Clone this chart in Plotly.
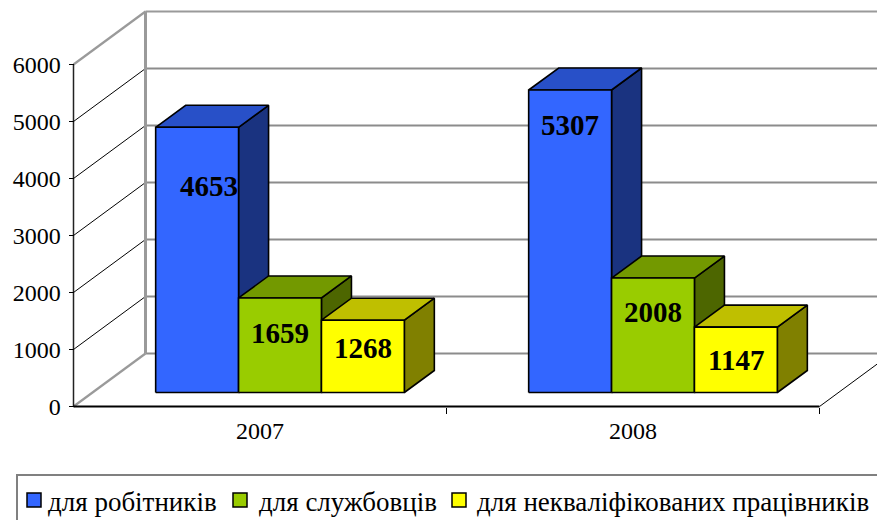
import plotly.graph_objects as go

# ---------------- data ----------------
categories = ["2007", "2008"]
series_names = ["для робітників", "для службовців", "для некваліфікованих працівників"]
workers = [4653, 5307]
employees = [1659, 2008]
unskilled = [1268, 1147]
y_ticks = [0, 1000, 2000, 3000, 4000, 5000, 6000]

# ---------------- styles ----------------
front_colors = ["#3366FF", "#99CC00", "#FFFF00"]
top_colors = ["#2850C8", "#739900", "#BFBF00"]
side_colors = ["#1A3380", "#4D6600", "#808000"]
FONT = "Liberation Serif, Times New Roman, serif"
# label offsets (px below bar top, px right of bar centre)
label_dy = [[59, 35, 28], [35, 34, 33]]
label_dx = [[12, 0, 0], [0, 0, 0]]

W, H = 877, 520
PXX = 373.0    # px per category unit
PXV = 0.057    # px per value unit
X0 = 280.0     # px of category 0 (bar front plane)
Y0 = 392.5     # px of value 0 (bar front plane)
BW = 1 / 4.5   # bar width (gap width 150%)


def depth(t):
    # pixel offset of depth plane t (0 = front axis, 1 = back wall) from bar front plane
    return -20 + 72 * t, 14 - 53 * t


def P(xc, v, t):
    dx, dy = depth(t)
    return xc + dx / PXX, v - dy / PXV


series = [workers, employees, unskilled]
cat_pos = list(range(len(categories)))
xmin, xmax = -0.5, len(categories) - 0.5
vmax = y_ticks[-1]

fig = go.Figure()


def line(pts, color, width, xref="x", yref="y"):
    fig.add_trace(go.Scatter(
        x=[p[0] for p in pts], y=[p[1] for p in pts], mode="lines",
        line=dict(color=color, width=width), hoverinfo="skip", showlegend=False,
        xaxis=xref, yaxis=yref))


def poly(pts, fill):
    xs = [p[0] for p in pts] + [pts[0][0]]
    ys = [p[1] for p in pts] + [pts[0][1]]
    fig.add_trace(go.Scatter(
        x=xs, y=ys, mode="lines", fill="toself", fillcolor=fill,
        line=dict(color="black", width=1.6), hoverinfo="skip", showlegend=False))


# ---------- walls ----------
for v in y_ticks:
    top_or_bottom = v in (y_ticks[0], y_ticks[-1])
    line([P(xmin, v, 1), P(xmax + 0.3, v, 1)], "#8C8C8C" if v != vmax else "#9A9A9A", 2)
    line([P(xmin, v, 0), P(xmin, v, 1)], "#9A9A9A" if top_or_bottom else "black",
         2.2 if top_or_bottom else 1)
line([P(xmin, 0, 1), P(xmin, vmax, 1)], "#9A9A9A", 3)
line([P(xmax, 0, 0), P(xmax, 0, 1)], "black", 1)
line([(xmin, 0), (xmin, vmax)], "#222222", 1.5, "x2", "y2")
line([(xmin, 0), (xmax, 0)], "black", 1.8, "x2", "y2")

# ---------- bars ----------
ddx = 30 / PXX
ddv = 22 / PXV
for i, c in enumerate(cat_pos):
    for j, vals in enumerate(series):
        v = vals[i]
        xc = c + (j - 1) * BW
        x0, x1 = xc - BW / 2, xc + BW / 2
        poly([(x1, 0), (x1, v), (x1 + ddx, v + ddv), (x1 + ddx, ddv)], side_colors[j])
        poly([(x0, v), (x1, v), (x1 + ddx, v + ddv), (x0 + ddx, v + ddv)], top_colors[j])
        poly([(x0, 0), (x1, 0), (x1, v), (x0, v)], front_colors[j])
        fig.add_annotation(
            x=xc + label_dx[i][j] / PXX, y=v - label_dy[i][j] / PXV, xref="x", yref="y",
            text=f"<b>{v}</b>", showarrow=False,
            font=dict(family=FONT, size=29, color="black"),
            xanchor="center", yanchor="middle")

# ---------- legend (manual) ----------
fig.add_shape(type="rect", xref="paper", yref="paper",
              x0=17 / W, x1=1.05, y0=-0.1, y1=1 - 475 / H,
              line=dict(color="#808080", width=2), fillcolor="white", layer="below")
leg_sq_x = [27, 233, 452]
leg_tx_x = [46, 257, 475]
for k, name in enumerate(series_names):
    fig.add_shape(type="rect", xref="paper", yref="paper",
                  x0=leg_sq_x[k] / W, x1=(leg_sq_x[k] + 14) / W,
                  y0=1 - 507 / H, y1=1 - 493 / H,
                  line=dict(color="black", width=1.5), fillcolor=front_colors[k])
    fig.add_annotation(x=leg_tx_x[k] / W, y=1 - 502 / H, xref="paper", yref="paper",
                       text=name, showarrow=False, xanchor="left", yanchor="middle",
                       font=dict(family=FONT, size=27, color="black"))

# ---------- axes ----------
fx0, fy0 = X0 + depth(0)[0], Y0 + depth(0)[1]   # front plane origin px
fig.update_layout(
    width=W, height=H,
    margin=dict(l=0, r=0, t=0, b=0),
    paper_bgcolor="white", plot_bgcolor="rgba(0,0,0,0)",
    showlegend=False,
    xaxis=dict(range=[(0 - X0) / PXX, (W - X0) / PXX], visible=False, fixedrange=True),
    yaxis=dict(range=[(Y0 - H) / PXV, Y0 / PXV], visible=False, fixedrange=True),
    xaxis2=dict(overlaying="x", anchor="free", position=1 - fy0 / H, side="bottom",
                range=[(0 - fx0) / PXX, (W - fx0) / PXX],
                tickmode="array", tickvals=cat_pos, ticktext=categories,
                ticks="", showgrid=False, zeroline=False, showline=False,
                ticklabelstandoff=7,
                tickfont=dict(family=FONT, size=24, color="black"),
                minor=dict(tickmode="array", tickvals=[p + 0.5 for p in cat_pos],
                           ticks="outside", ticklen=6, tickcolor="black", tickwidth=1,
                           showgrid=False),
                fixedrange=True),
    yaxis2=dict(overlaying="y", anchor="free", position=(fx0 - PXX * 0.5) / W, side="left",
                range=[(fy0 - H) / PXV, fy0 / PXV],
                tickmode="array", tickvals=y_ticks,
                ticks="outside", ticklen=5, tickcolor="black", tickwidth=1,
                showgrid=False, zeroline=False, showline=False,
                ticklabelstandoff=3,
                tickfont=dict(family=FONT, size=24, color="black"),
                fixedrange=True),
)

fig.write_html("out.html", config={"displayModeBar": False},
               post_script="document.body.style.margin='0';")
